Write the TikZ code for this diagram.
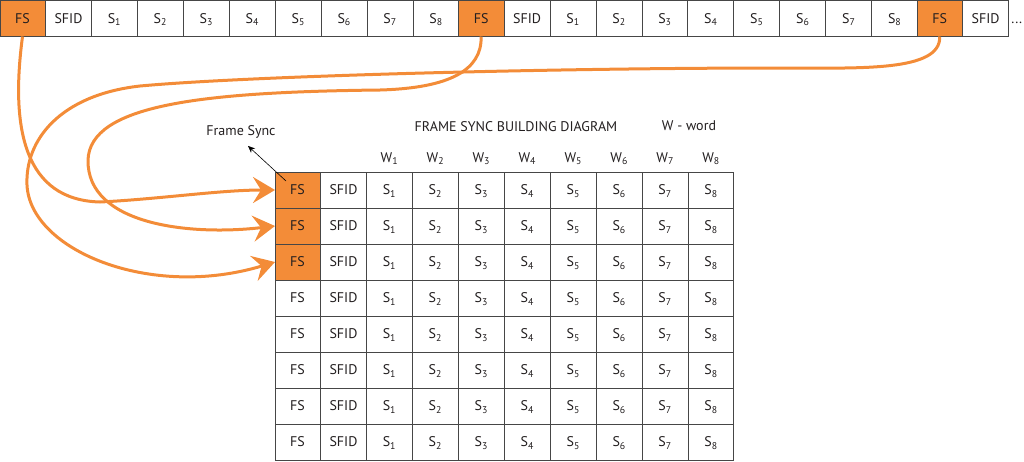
\documentclass[tikz,border=0pt]{standalone}
\usepackage{fontspec}
\setmainfont{PT Sans}
\usepackage{tikz}
\usetikzlibrary{calc,shapes.multipart,arrows.meta,positioning}
\definecolor{myorange}{RGB}{243,140,56}
\definecolor{mygrid}{RGB}{70,70,70}
\definecolor{mytext}{RGB}{35,31,32}
\newcommand{\Slot}[1]{S\textsubscript{#1}}
\newcommand{\Word}[1]{W\textsubscript{#1}}
\newcommand{\cellstrut}{\rule[-13.1pt]{0pt}{36pt}}
\newcommand{\FrameParts}{%
                  \cellstrut FS
  \nodepart{two}   \cellstrut SFID
  \nodepart{three} \cellstrut \Slot{1}
  \nodepart{four}  \cellstrut \Slot{2}
  \nodepart{five}  \cellstrut \Slot{3}
  \nodepart{six}   \cellstrut \Slot{4}
  \nodepart{seven} \cellstrut \Slot{5}
  \nodepart{eight} \cellstrut \Slot{6}
  \nodepart{nine}  \cellstrut \Slot{7}
  \nodepart{ten}   \cellstrut \Slot{8}%
}

\begin{document}
\begin{tikzpicture}[
  x=1pt, y=-1pt,
  every node/.style={text=mytext, font=\fontsize{14}{16}\selectfont},
  myrect/.style={
    draw=mygrid,
    line width=0.9pt,
    rectangle split,
    rectangle split horizontal,
    rectangle split parts=#1,
    text width=45.05pt,
    text centered,
    inner xsep=0pt,
    inner ysep=0pt,
    outer sep=0pt,
    anchor=north west
    },
  fsarrow/.style={
    draw=myorange,
    line width=3pt,
    -{Stealth[length=22pt,width=26pt,inset=8pt]}
    }
]
\useasboundingbox (0,0) rectangle (1024,461);

% serial stream
\node[myrect=10, rectangle split part fill={myorange, white}]
  (frame1) at (0,0.5) {\FrameParts};
\node[myrect=10, rectangle split part fill={myorange, white}, right=0pt of frame1]
  (frame2) {\FrameParts};
\node[myrect=2, rectangle split part fill={myorange, white}, right=0pt of frame2]
  (frame3)
  {
                  \cellstrut FS
  \nodepart{two}  \cellstrut SFID
  };
\node[right=3pt of frame3, inner sep=0pt, yshift=-4pt] (more) {...};

% frame table
\node[myrect=10, rectangle split part fill={myorange, white}]
  (row1) at (275,172) {\FrameParts};
\foreach \r in {2,...,8}{
  \pgfmathtruncatemacro\prev{\r-1}
  \ifnum\r<4 \def\fscol{myorange}\else\def\fscol{white}\fi
  \node[myrect=10, rectangle split part fill={\fscol, white}, below=0pt of row\prev]
    (row\r) {\FrameParts};
}

\foreach \Part [count=\Parti from 1] in {three north, four north, five north, six north, seven north, eight north, nine north, ten north}
  \node (w\Parti) at ($(row1.\Part)+(0,-13)$) {\Word{\Parti}};

\node (title) at (516,127) {FRAME SYNC BUILDING DIAGRAM};
\node (legend) at (689,126) {W - word};
\node (framesync) at (241,132) {Frame Sync};

\coordinate (fsmark) at ($(row1.north west)+(11,9)$);
\draw[line width=0.6pt, -{Stealth[length=7pt,width=6pt]}] (fsmark) -- ($(framesync.south)+(7,4)$);

% sync words into the table
\draw[fsarrow] (frame1.one south) .. controls (10,130) and (25,200) .. (100,202)
  .. controls (160,199) and (220,190) .. (row1.one west);
\draw[fsarrow] (frame2.one south) .. controls (482,70) and (450,88) .. (380,90)
  .. controls (200,92) and (90,105) .. (88,160)
  .. controls (87,225) and (190,236) .. (row2.one west);
\draw[fsarrow] (frame3.one south) .. controls (941,72) and (860,68) .. (780,68)
  .. controls (550,68) and (250,76) .. (140,86)
  .. controls (60,95) and (25,140) .. (27,185)
  .. controls (30,250) and (150,300) .. (row3.one west);

\end{tikzpicture}
\end{document}
